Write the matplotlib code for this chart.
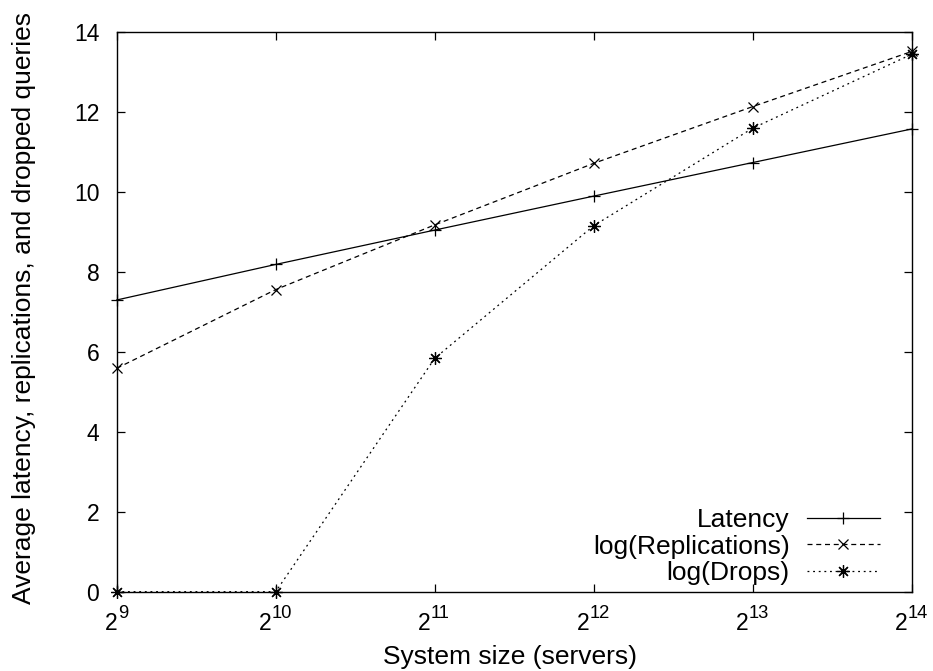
import matplotlib
matplotlib.use("Agg")
import matplotlib.pyplot as plt
from matplotlib.ticker import FixedLocator, NullLocator
from matplotlib.transforms import blended_transform_factory, ScaledTranslation

plt.rcParams['font.family'] = ['Liberation Sans', 'DejaVu Sans']

# Data: system size (servers) vs. averaged metrics
servers = [512, 1024, 2048, 4096, 8192, 16384]
exponents = ['9', '10', '11', '12', '13', '14']
latency = [7.30, 8.19, 9.05, 9.90, 10.74, 11.58]
log_replications = [5.59, 7.56, 9.18, 10.72, 12.14, 13.52]
log_drops = [0.0, 0.0, 5.84, 9.16, 11.60, 13.45]

y_ticks = [0, 2, 4, 6, 8, 10, 12, 14]

TICK_FS = 16.5
SUP_FS = 13.2
LABEL_FS = 19
DIGIT_EM = 0.556  # advance width of a digit, in em

fig = plt.figure(figsize=(9.33, 6.71), dpi=100)
ax = fig.add_axes([0.1251, 0.1182, 0.8521, 0.8337])

lw = 0.9
ax.plot(servers, latency, color='black', lw=lw, linestyle='-',
        marker='+', markersize=8, markeredgewidth=lw, label='Latency', clip_on=False)
ax.plot(servers, log_replications, color='black', lw=lw, linestyle=(0, (4, 3)),
        marker='x', markersize=7, markeredgewidth=lw, label='log(Replications)', clip_on=False)
ax.plot(servers, log_drops, color='black', lw=lw, linestyle=(0, (1.5, 3)),
        marker=(8, 2, 0), markersize=9, markeredgewidth=lw, label='log(Drops)', clip_on=False)

ax.set_xscale('log', base=2)
ax.set_xlim(servers[0], servers[-1])
ax.set_ylim(0, 14)

ax.xaxis.set_major_locator(FixedLocator(servers))
ax.xaxis.set_minor_locator(NullLocator())
ax.set_yticks(y_ticks)
ax.set_yticklabels([str(v) for v in y_ticks])

ax.tick_params(axis='both', which='major', direction='in', length=6, width=0.9,
               top=True, right=True, labelsize=TICK_FS, color='black')
ax.tick_params(axis='x', labelbottom=False)
ax.tick_params(axis='y', pad=12.5)

# Power-of-two tick labels with a larger superscript than mathtext allows
base_tr = blended_transform_factory(ax.transData, ax.transAxes)
for v, e in zip(servers, exponents):
    w_base = DIGIT_EM * TICK_FS
    w_total = w_base + DIGIT_EM * SUP_FS * len(e)
    x0 = -w_total / 2.0
    t_base = base_tr + ScaledTranslation(x0 / 72, -27.6 / 72, fig.dpi_scale_trans)
    t_sup = base_tr + ScaledTranslation((x0 + w_base) / 72, -18.7 / 72, fig.dpi_scale_trans)
    ax.text(v, 0, '2', transform=t_base, fontsize=TICK_FS, ha='left', va='baseline',
            clip_on=False)
    ax.text(v, 0, e, transform=t_sup, fontsize=SUP_FS, ha='left', va='baseline',
            clip_on=False)

for s in ax.spines.values():
    s.set_linewidth(1.0)
    s.set_color('black')

ax.set_xlabel('System size (servers)', fontsize=LABEL_FS)
ax.set_ylabel('Average latency, replications, and dropped queries', fontsize=LABEL_FS)
ax.xaxis.set_label_coords(0.495, -0.0953)
ax.yaxis.set_label_coords(-0.102, 0.507)

leg = ax.legend(loc='lower right', bbox_to_anchor=(0.960, 0.012), frameon=False,
                markerfirst=False, fontsize=LABEL_FS, handlelength=2.77, handletextpad=0.65,
                labelspacing=0.09, borderpad=0, borderaxespad=0)

fig.savefig('out.png', dpi=100)
